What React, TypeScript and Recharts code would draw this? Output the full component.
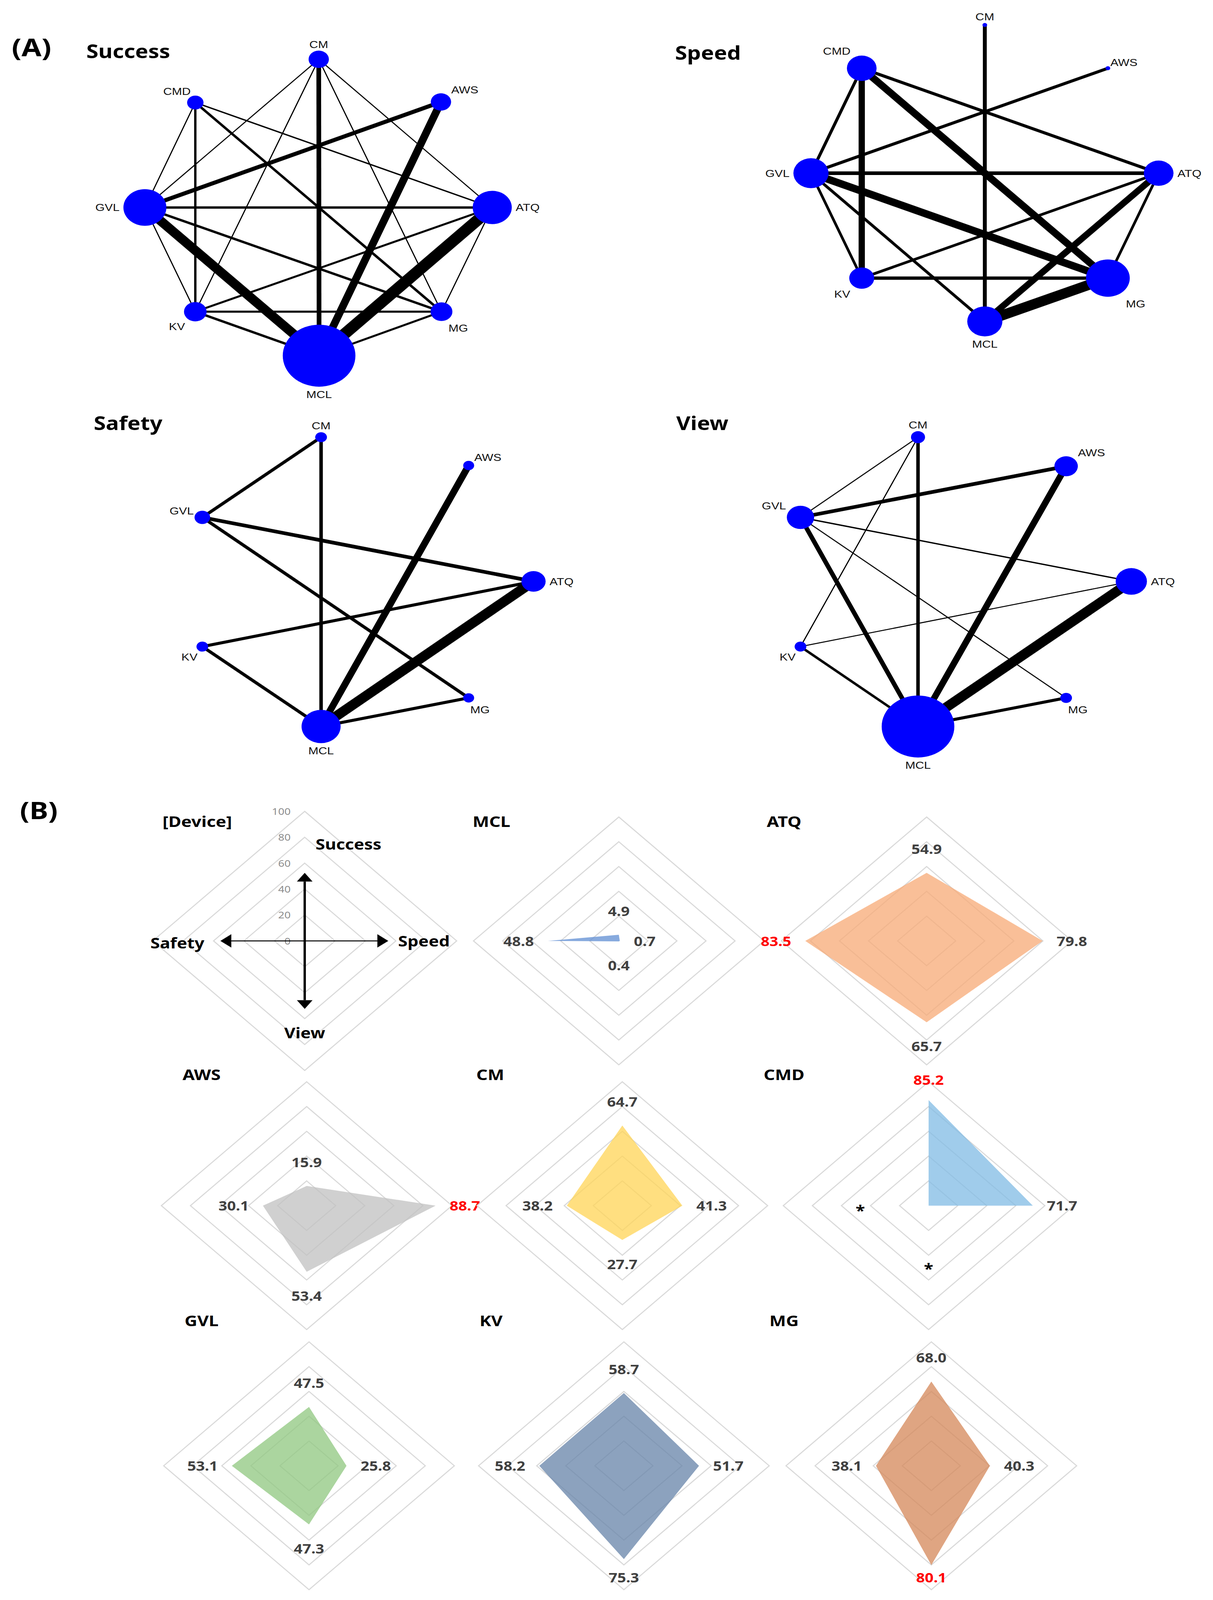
import React from 'react';
import {
  ScatterChart, Scatter, XAxis, YAxis,
  RadarChart, Radar, PolarGrid, PolarAngleAxis, PolarRadiusAxis,
} from 'recharts';

const SANS = '"Noto Sans", "DejaVu Sans", sans-serif';
const ARIAL = '"Liberation Sans", Arial, sans-serif';

// The page viewport is only 4096px tall, so the 3105x4804 figure is squeezed vertically to fit.
const PAGE_W = 3105;
const PAGE_H = 4804;
const VIEW_H = 4096;

// ---------------- Part A: network graphs ----------------
// layout coordinates (unit = layout radius, y pointing down), node size, label side
const successNodes = [
  { id: 'CM', x: 0.0, y: -1.0, size: 26, side: 'top' },
  { id: 'CMD', x: -0.71, y: -0.708, size: 21, side: 'topleft' },
  { id: 'AWS', x: 0.703, y: -0.712, size: 26, side: 'topright' },
  { id: 'GVL', x: -1.0, y: 0.0, size: 55, side: 'left' },
  { id: 'ATQ', x: 0.998, y: 0.0, size: 50, side: 'right' },
  { id: 'KV', x: -0.71, y: 0.703, size: 29, side: 'bottomleft' },
  { id: 'MG', x: 0.706, y: 0.703, size: 28, side: 'bottomright' },
  { id: 'MCL', x: 0.002, y: 1.0, size: 93, side: 'bottom' },
];
const successEdges = [
  ['CM', 'MCL', 12], ['CM', 'GVL', 3], ['CM', 'KV', 3], ['CM', 'ATQ', 3], ['CM', 'MG', 3],
  ['CMD', 'GVL', 3], ['CMD', 'KV', 6], ['CMD', 'MG', 7], ['CMD', 'ATQ', 4],
  ['AWS', 'GVL', 12], ['AWS', 'MCL', 20],
  ['GVL', 'ATQ', 7], ['GVL', 'MCL', 26], ['GVL', 'MG', 7], ['GVL', 'KV', 3],
  ['ATQ', 'MCL', 32], ['ATQ', 'KV', 6], ['ATQ', 'MG', 3],
  ['KV', 'MG', 6], ['KV', 'MCL', 7], ['MG', 'MCL', 6],
];

const speedNodes = [
  { id: 'CM', x: 0.0, y: -1.0, size: 6, side: 'top' },
  { id: 'CMD', x: -0.708, y: -0.708, size: 38, side: 'topleft' },
  { id: 'AWS', x: 0.708, y: -0.708, size: 6, side: 'topright' },
  { id: 'GVL', x: -1.0, y: 0.0, size: 45, side: 'left' },
  { id: 'ATQ', x: 1.0, y: 0.0, size: 38, side: 'right' },
  { id: 'KV', x: -0.708, y: 0.708, size: 32, side: 'bottomleft' },
  { id: 'MG', x: 0.708, y: 0.708, size: 56, side: 'bottomright' },
  { id: 'MCL', x: 0.0, y: 1.0, size: 45, side: 'bottom' },
];
const speedEdges = [
  ['CM', 'MCL', 10], ['AWS', 'GVL', 9], ['CMD', 'GVL', 8], ['CMD', 'KV', 16], ['CMD', 'MG', 20],
  ['CMD', 'ATQ', 9], ['GVL', 'ATQ', 11], ['GVL', 'MG', 22], ['GVL', 'KV', 7], ['GVL', 'MCL', 8],
  ['ATQ', 'KV', 8], ['ATQ', 'MCL', 18], ['ATQ', 'MG', 7], ['KV', 'MG', 10], ['MG', 'MCL', 30],
];

const safetyNodes = [
  { id: 'CM', x: 0.0, y: -0.976, size: 15, side: 'top' },
  { id: 'AWS', x: 0.849, y: -0.785, size: 14, side: 'topright' },
  { id: 'GVL', x: -0.683, y: -0.435, size: 20, side: 'upleft' },
  { id: 'ATQ', x: 1.222, y: -0.003, size: 31, side: 'right' },
  { id: 'KV', x: -0.683, y: 0.437, size: 15, side: 'bottomleft' },
  { id: 'MG', x: 0.849, y: 0.783, size: 14, side: 'bottomright' },
  { id: 'MCL', x: 0.0, y: 0.976, size: 50, side: 'bottom' },
];
const safetyEdges = [
  ['CM', 'GVL', 9], ['CM', 'MCL', 9], ['AWS', 'MCL', 18], ['GVL', 'ATQ', 11], ['GVL', 'MG', 9],
  ['ATQ', 'KV', 9], ['ATQ', 'MCL', 28], ['KV', 'MCL', 9], ['MG', 'MCL', 9],
];

const viewNodes = [
  { id: 'CM', x: 0.0, y: -0.976, size: 18, side: 'top' },
  { id: 'AWS', x: 0.852, y: -0.78, size: 30, side: 'topright' },
  { id: 'GVL', x: -0.676, y: -0.435, size: 35, side: 'upleft' },
  { id: 'ATQ', x: 1.227, y: -0.003, size: 40, side: 'right' },
  { id: 'KV', x: -0.676, y: 0.437, size: 15, side: 'bottomleft' },
  { id: 'MG', x: 0.852, y: 0.783, size: 15, side: 'bottomright' },
  { id: 'MCL', x: 0.0, y: 0.976, size: 93, side: 'bottom' },
];
const viewEdges = [
  ['CM', 'GVL', 3], ['CM', 'KV', 3], ['CM', 'MCL', 9], ['AWS', 'GVL', 11], ['AWS', 'MCL', 17],
  ['GVL', 'MCL', 12], ['GVL', 'ATQ', 4], ['GVL', 'MG', 3], ['ATQ', 'KV', 3], ['ATQ', 'MCL', 28],
  ['KV', 'MCL', 7], ['MG', 'MCL', 9],
];

// ---------------- Part B: radar data ----------------
const categories = ['Success', 'Speed', 'View', 'Safety'];
const mclValues = [4.9, 0.7, 0.4, 48.8];
const atqValues = [54.9, 79.8, 65.7, 83.5];
const awsValues = [15.9, 88.7, 53.4, 30.1];
const cmValues = [64.7, 41.3, 27.7, 38.2];
const cmdValues = [85.2, 71.7, null, null];
const gvlValues = [47.5, 25.8, 47.3, 53.1];
const kvValues = [58.7, 51.7, 75.3, 58.2];
const mgValues = [68.0, 40.3, 80.1, 38.1];
const keyArrowLengths = [52.5, 55, 52.5, 55.5];

const devices = [
  { name: 'MCL', values: mclValues, color: '#5F8ED3', cx: 1584, cy: 2825, tx: 1258, ty: 2466 },
  { name: 'ATQ', values: atqValues, color: '#F7AA76', cx: 2372, cy: 2825, tx: 2007, ty: 2466 },
  { name: 'AWS', values: awsValues, color: '#C0C0C0', cx: 785, cy: 3620, tx: 516, ty: 3225 },
  { name: 'CM', values: cmValues, color: '#FFD456', cx: 1593, cy: 3620, tx: 1255, ty: 3225 },
  { name: 'CMD', values: cmdValues, color: '#80BBE4', cx: 2377, cy: 3620, tx: 2007, ty: 3225 },
  { name: 'GVL', values: gvlValues, color: '#8FC77F', cx: 791, cy: 4401, tx: 516, ty: 3964 },
  { name: 'KV', values: kvValues, color: '#6683A8', cx: 1597, cy: 4401, tx: 1257, ty: 3964 },
  { name: 'MG', values: mgValues, color: '#D48758', cx: 2384, cy: 4401, tx: 2007, ty: 3964 },
];

const bestPerCategory = categories.map((_, i) =>
  Math.max(...devices.map((d) => (d.values[i] == null ? -Infinity : d.values[i]))));

// ---------------- helpers ----------------
const UNIT = 445;
const XDOM = [-1.62, 1.62];
const YDOM = [-1.2, 1.36];

function labelPlacement(side, cx, cy, r) {
  switch (side) {
    case 'top': return { x: cx, y: cy - r - 19, anchor: 'middle' };
    case 'bottom': return { x: cx, y: cy + r + 23, anchor: 'middle' };
    case 'left': return { x: cx - r - 10, y: cy, anchor: 'end' };
    case 'right': return { x: cx + r + 10, y: cy, anchor: 'start' };
    case 'topright': return { x: cx + r + 35, y: cy - r - 11, anchor: 'middle' };
    case 'topleft': return { x: cx - r - 26, y: cy - r - 13, anchor: 'middle' };
    case 'upleft': return { x: cx - r - 33, y: cy - r, anchor: 'middle' };
    case 'bottomleft': return { x: cx - r - 18, y: cy + r + 16, anchor: 'middle' };
    default: return { x: cx + r + 15, y: cy + r + 21, anchor: 'middle' };
  }
}

const EmptyShape = () => <g />;

const NodeShape = (p: any) => {
  const { cx, cy, payload } = p;
  const r = payload.size;
  const pos = labelPlacement(payload.side, cx, cy, r);
  return (
    <g>
      <circle cx={cx} cy={cy} r={r} fill="#0000ff" />
      <text x={pos.x} y={pos.y} textAnchor={pos.anchor} dominantBaseline="central"
        fontFamily={ARIAL} fontSize={31} fill="#111">{payload.id}</text>
    </g>
  );
};

function Network({ nodes, edges, centerX, centerY }: any) {
  const w = (XDOM[1] - XDOM[0]) * UNIT;
  const h = (YDOM[1] - YDOM[0]) * UNIT;
  const byId: any = {};
  nodes.forEach((n: any) => { byId[n.id] = n; });
  return (
    <div style={{ position: 'absolute', left: centerX + XDOM[0] * UNIT, top: centerY + YDOM[0] * UNIT }}>
      <ScatterChart width={w} height={h} margin={{ top: 0, right: 0, bottom: 0, left: 0 }}>
        <XAxis type="number" dataKey="x" domain={XDOM} hide allowDataOverflow />
        <YAxis type="number" dataKey="y" domain={YDOM} reversed hide allowDataOverflow />
        {edges.map((e: any, i: number) => (
          <Scatter key={`e${i}`} data={[byId[e[0]], byId[e[1]]]} fill="#000"
            line={{ stroke: '#000', strokeWidth: e[2] }} shape={EmptyShape}
            isAnimationActive={false} legendType="none" />
        ))}
        <Scatter data={nodes} shape={NodeShape} fill="#0000ff" isAnimationActive={false} legendType="none" />
      </ScatterChart>
    </div>
  );
}

function TextBox({ x, y, size, children, anchor = 'start', weight = 700, family = SANS, color = '#000' }: any) {
  const tx = anchor === 'middle' ? '-50%' : '0';
  return (
    <div style={{
      position: 'absolute', left: x, top: y, transform: `translate(${tx}, -50%)`,
      fontFamily: family, fontWeight: weight, fontSize: size, lineHeight: 1,
      whiteSpace: 'nowrap', color,
    }}>{children}</div>
  );
}

const CHART = 900;
const MID = 450;
const DATA_R = 372;
const KEY_R = 389;

function makeValueLabel(values: any[]) {
  return (p: any) => {
    const { cx, cy, index } = p;
    const v = values[index];
    const missing = v === null || v === undefined;
    const vr = missing ? 0 : (v / 100) * DATA_R;
    const text = missing ? '*' : v.toFixed(1);
    const fill = missing ? '#000' : (v === bestPerCategory[index] ? '#ff0000' : '#404040');
    let x = cx;
    let y = cy;
    let anchor = 'middle';
    if (missing) {
      const d = 0.47 * DATA_R;
      if (index === 0) y -= d; else if (index === 1) x += d; else if (index === 2) y += d; else x -= d;
      y += 14;
    } else if (index === 0) {
      y -= Math.min(72, 378 - vr);
    } else if (index === 2) {
      y += Math.min(72, 335 - vr);
    } else if (index === 1) {
      x += 36; anchor = 'start';
    } else {
      x -= 36; anchor = 'end';
    }
    return (
      <text key={`v${index}`} x={x} y={y} textAnchor={anchor} dominantBaseline="central"
        fontFamily={SANS} fontWeight={700} fontSize={missing ? 44 : 39} fill={fill}>{text}</text>
    );
  };
}

function DeviceRadar({ dev }: any) {
  const data = categories.map((c, i) => ({ axis: c, value: dev.values[i] == null ? 0 : dev.values[i] }));
  return (
    <div style={{ position: 'absolute', left: dev.cx - MID, top: dev.cy - MID }}>
      <RadarChart width={CHART} height={CHART} cx={MID} cy={MID} outerRadius={DATA_R} data={data}
        startAngle={90} endAngle={-270} margin={{ top: 0, right: 0, bottom: 0, left: 0 }}>
        <PolarGrid gridType="polygon" radialLines={false} stroke="#d9d9d9" strokeWidth={3} />
        <PolarAngleAxis dataKey="axis" tick={false} axisLine={false} tickLine={false} />
        <PolarRadiusAxis angle={90} domain={[0, 100]} tickCount={6} axisLine={false} tick={false} />
        <Radar dataKey="value" fill={dev.color} fillOpacity={0.75} stroke="none"
          isAnimationActive={false} dot={makeValueLabel(dev.values)} />
      </RadarChart>
    </div>
  );
}

const keyLabelOffsets = [
  { dx: 112, dy: -87, anchor: 'middle' },
  { dx: 25, dy: 0, anchor: 'start' },
  { dx: 0, dy: 71, anchor: 'middle' },
  { dx: -41, dy: 5, anchor: 'end' },
];

const ArrowDot = (p: any) => {
  const { cx, cy, index } = p;
  const dx = cx - MID;
  const dy = cy - MID;
  const len = Math.hypot(dx, dy) || 1;
  const ux = dx / len;
  const uy = dy / len;
  const vertical = index % 2 === 0;
  const head = vertical ? 26 : 28;
  const half = 20;
  const sw = vertical ? 6 : 3;
  const bx = cx - ux * head;
  const by = cy - uy * head;
  const px = -uy;
  const py = ux;
  const lab = keyLabelOffsets[index];
  return (
    <g key={`a${index}`}>
      <line x1={MID} y1={MID} x2={bx} y2={by} stroke="#000" strokeWidth={sw} />
      <polygon points={`${cx},${cy} ${bx + px * half},${by + py * half} ${bx - px * half},${by - py * half}`} fill="#000" />
      <text x={cx + lab.dx} y={cy + lab.dy} textAnchor={lab.anchor} dominantBaseline="central"
        fontFamily={SANS} fontWeight={700} fontSize={44} fill="#000">{categories[index]}</text>
    </g>
  );
};

const RadiusTick = (p: any) => (
  <text x={p.x - 36} y={p.y} textAnchor="end" dominantBaseline="central"
    fontFamily={SANS} fontSize={28} fill="#8c8c8c">{p.payload.value}</text>
);

function KeyRadar() {
  const data = categories.map((c, i) => ({ axis: c, arrow: keyArrowLengths[i] }));
  return (
    <div style={{ position: 'absolute', left: 780 - MID, top: 2825 - MID }}>
      <RadarChart width={CHART} height={CHART} cx={MID} cy={MID} outerRadius={KEY_R} data={data}
        startAngle={90} endAngle={-270} margin={{ top: 0, right: 0, bottom: 0, left: 0 }}>
        <PolarGrid gridType="polygon" radialLines={false} stroke="#d9d9d9" strokeWidth={3} />
        <PolarAngleAxis dataKey="axis" tick={false} axisLine={false} tickLine={false} />
        <PolarRadiusAxis angle={90} domain={[0, 100]} tickCount={6} axisLine={false} tick={RadiusTick} />
        <Radar dataKey="arrow" fill="none" stroke="none" isAnimationActive={false} dot={ArrowDot} />
      </RadarChart>
    </div>
  );
}

export default function App() {
  return (
    <div style={{ position: 'relative', margin: '-8px 0 0 -8px', width: PAGE_W, height: VIEW_H, overflow: 'hidden', background: '#fff' }}>
      <div style={{
        position: 'absolute', left: 0, top: 0, width: PAGE_W, height: PAGE_H, background: '#fff',
        overflow: 'hidden', transform: `scale(1, ${VIEW_H / PAGE_H})`, transformOrigin: '0 0',
      }}>
        <Network nodes={successNodes} edges={successEdges} centerX={816} centerY={623} />
        <Network nodes={speedNodes} edges={speedEdges} centerX={2521} centerY={520} />
        <Network nodes={safetyNodes} edges={safetyEdges} centerX={822} centerY={1747} />
        <Network nodes={viewNodes} edges={viewEdges} centerX={2350} centerY={1747} />

        <TextBox x={30} y={141} size={74}>(A)</TextBox>
        <TextBox x={221} y={153} size={56}>Success</TextBox>
        <TextBox x={1728} y={157} size={56}>Speed</TextBox>
        <TextBox x={240} y={1269} size={56}>Safety</TextBox>
        <TextBox x={1731} y={1269} size={56}>View</TextBox>

        <TextBox x={51} y={2432} size={72}>(B)</TextBox>
        <KeyRadar />
        <TextBox x={505} y={2466} size={45} anchor="middle">[Device]</TextBox>
        {devices.map((d) => <DeviceRadar key={d.name} dev={d} />)}
        {devices.map((d) => (
          <TextBox key={`t${d.name}`} x={d.tx} y={d.ty} size={45} anchor="middle">{d.name}</TextBox>
        ))}
      </div>
    </div>
  );
}
